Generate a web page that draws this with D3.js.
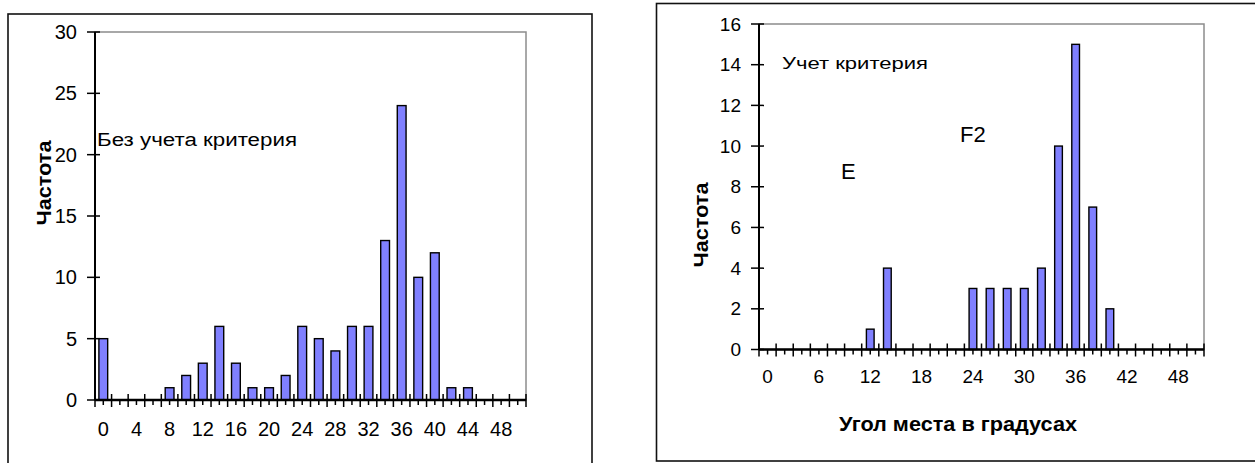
<!DOCTYPE html>
<html>
<head>
<meta charset="utf-8">
<script src="https://cdn.jsdelivr.net/npm/d3@7/dist/d3.min.js"></script>
<style>
  html, body { margin: 0; padding: 0; background: #fff; }
  svg text { font-family: "Liberation Sans", Arial, sans-serif; fill: #000; }
</style>
</head>
<body>
<svg id="chart" width="1255" height="463"></svg>
<script>
// ---- data ----
const categories = [0, 2, 4, 6, 8, 10, 12, 14, 16, 18, 20, 22, 24, 26, 28, 30, 32, 34, 36, 38, 40, 42, 44, 46, 48, 50];
const leftValues  = [5, 0, 0, 0, 1, 2, 3, 6, 3, 1, 1, 2, 6, 5, 4, 6, 6, 13, 24, 10, 12, 1, 1, 0, 0, 0];
const rightValues = [0, 0, 0, 0, 0, 0, 1, 4, 0, 0, 0, 0, 3, 3, 3, 3, 4, 10, 15, 7, 2, 0, 0, 0, 0, 0];
const leftXTickLabels  = [0, 4, 8, 12, 16, 20, 24, 28, 32, 36, 40, 44, 48];
const rightXTickLabels = [0, 6, 12, 18, 24, 30, 36, 42, 48];
const leftYTicks  = [0, 5, 10, 15, 20, 25, 30];
const rightYTicks = [0, 2, 4, 6, 8, 10, 12, 14, 16];
const yTitle = "Частота";
const xTitle = "Угол места в градусах";
const leftNote = "Без учета критерия";
const rightNote = "Учет критерия";
const labelE = "E";
const labelF2 = "F2";

const svg = d3.select("#chart");

function drawChart(cfg) {
  const g = svg.append("g");
  // outer frame
  g.append("rect")
    .attr("x", cfg.frame[0]).attr("y", cfg.frame[1])
    .attr("width", cfg.frame[2]).attr("height", cfg.frame[3])
    .attr("fill", "none").attr("stroke", "#111").attr("stroke-width", 1.6);

  const x = d3.scaleBand().domain(categories).range([cfg.left, cfg.right])
    .paddingInner(cfg.pad).paddingOuter(cfg.pad / 2);
  const xc = d3.scaleBand().domain(categories).range([cfg.left, cfg.right]).padding(0);
  const y = d3.scaleLinear().domain([0, cfg.yMax]).range([cfg.bottom, cfg.top]);

  // plot area frame (gray)
  g.append("rect")
    .attr("x", cfg.left).attr("y", cfg.top)
    .attr("width", cfg.right - cfg.left).attr("height", cfg.bottom - cfg.top)
    .attr("fill", "none").attr("stroke", "#8c8c8c").attr("stroke-width", 1.5);

  // bars
  g.append("g").selectAll("rect").data(categories).join("rect")
    .attr("x", d => x(d))
    .attr("width", x.bandwidth())
    .attr("y", (d, i) => y(cfg.values[i]))
    .attr("height", (d, i) => y(0) - y(cfg.values[i]))
    .attr("fill", "#8080ff").attr("stroke", "#000").attr("stroke-width", 1.4);

  // y axis
  const yAxis = d3.axisLeft(y).tickValues(cfg.yTicks).tickSize(0).tickPadding(cfg.yPad);
  const ya = g.append("g").attr("transform", `translate(${cfg.left},0)`).call(yAxis);
  ya.select(".domain").remove();
  ya.selectAll("text").style("font-size", cfg.tickFont + "px")
    .style("font-family", '"Liberation Sans", Arial, sans-serif').attr("fill", "#000");
  g.append("g").selectAll("line").data(cfg.yTicks).join("line")
    .attr("x1", cfg.left - 8).attr("x2", cfg.left + 5)
    .attr("y1", d => y(d)).attr("y2", d => y(d))
    .attr("stroke", "#000").attr("stroke-width", 1.5);
  g.append("line").attr("x1", cfg.left).attr("x2", cfg.left)
    .attr("y1", cfg.top).attr("y2", cfg.bottom)
    .attr("stroke", "#000").attr("stroke-width", 2);

  // x axis with labels
  const xAxis = d3.axisBottom(x)
    .tickValues(cfg.xLabels).tickSize(0).tickPadding(cfg.xPad);
  const xa = g.append("g").attr("transform", `translate(0,${cfg.bottom})`).call(xAxis);
  xa.select(".domain").remove();
  xa.selectAll("text").style("font-size", cfg.tickFont + "px")
    .style("font-family", '"Liberation Sans", Arial, sans-serif').attr("fill", "#000");

  // major ticks at category boundaries (cross), minor at category centres (outside)
  const bounds = categories.map(c => xc(c)).concat([cfg.right]);
  g.append("g").selectAll("line").data(bounds).join("line")
    .attr("x1", d => d).attr("x2", d => d)
    .attr("y1", cfg.bottom - 6).attr("y2", cfg.bottom + 7)
    .attr("stroke", "#000").attr("stroke-width", 1.5);
  g.append("g").selectAll("line").data(categories).join("line")
    .attr("x1", d => xc(d) + xc.bandwidth() / 2).attr("x2", d => xc(d) + xc.bandwidth() / 2)
    .attr("y1", cfg.bottom).attr("y2", cfg.bottom + 5)
    .attr("stroke", "#000").attr("stroke-width", 1.5);
  g.append("line").attr("x1", cfg.left).attr("x2", cfg.right)
    .attr("y1", cfg.bottom).attr("y2", cfg.bottom)
    .attr("stroke", "#000").attr("stroke-width", 2.6);

  // y title
  g.append("text")
    .attr("transform", `translate(${cfg.yTitleX},${cfg.yTitleY}) rotate(-90)`)
    .attr("text-anchor", "middle")
    .attr("textLength", 85).attr("lengthAdjust", "spacingAndGlyphs")
    .style("font-size", "21px").style("font-weight", "bold")
    .text(yTitle);
  return { x, y, g };
}

// ---- left chart ----
const L = drawChart({
  frame: [8, 14, 584, 470],
  left: 95, right: 526, top: 32, bottom: 400,
  pad: 0.47, yMax: 30, values: leftValues,
  yTicks: leftYTicks, xLabels: leftXTickLabels,
  tickFont: 20, yPad: 18, xPad: 22,
  yTitleX: 51, yTitleY: 183
});
L.g.append("text").attr("x", 97).attr("y", 146)
  .attr("textLength", 200).attr("lengthAdjust", "spacingAndGlyphs")
  .style("font-size", "18px").text(leftNote);

// ---- right chart ----
const R = drawChart({
  frame: [656.5, 3.5, 640, 457.5],
  left: 759, right: 1204, top: 24, bottom: 349.5,
  pad: 0.55, yMax: 16, values: rightValues,
  yTicks: rightYTicks, xLabels: rightXTickLabels,
  tickFont: 19, yPad: 18, xPad: 20,
  yTitleX: 708, yTitleY: 225
});
R.g.append("text").attr("x", 782).attr("y", 69)
  .attr("textLength", 146).attr("lengthAdjust", "spacingAndGlyphs")
  .style("font-size", "17px").text(rightNote);
R.g.append("text").attr("x", 960).attr("y", 142)
  .style("font-size", "22px").text(labelF2);
R.g.append("text").attr("x", 841).attr("y", 179)
  .style("font-size", "22px").text(labelE);
R.g.append("text").attr("x", 958).attr("y", 431)
  .attr("text-anchor", "middle")
  .attr("textLength", 238).attr("lengthAdjust", "spacingAndGlyphs")
  .style("font-size", "20px").style("font-weight", "bold").text(xTitle);
</script>
</body>
</html>
